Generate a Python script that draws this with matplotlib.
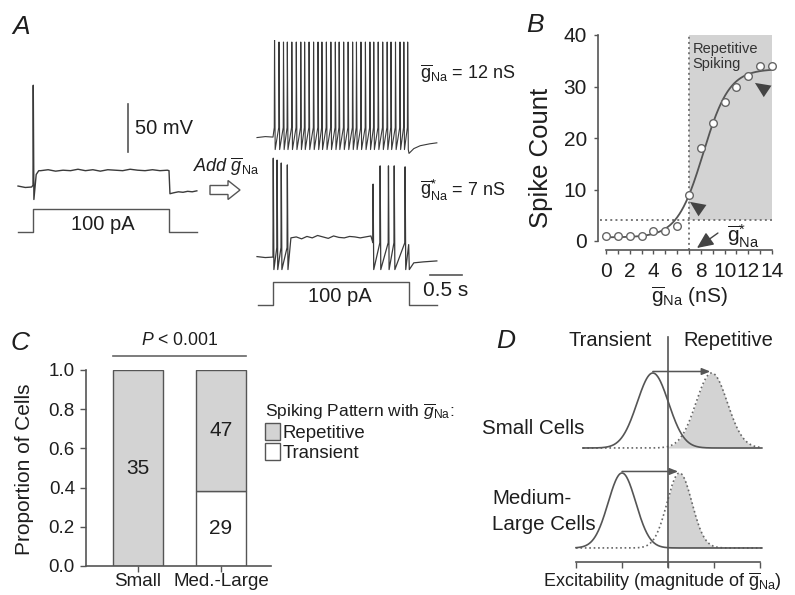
import numpy as np
import matplotlib
matplotlib.use('Agg')
import matplotlib.pyplot as plt
import matplotlib.transforms as mtransforms
from matplotlib.patches import Rectangle, FancyArrow, Patch

W, H = 795, 595
plt.rcParams['font.family'] = ['Liberation Sans', 'DejaVu Sans']
plt.rcParams['mathtext.fontset'] = 'custom'
plt.rcParams['mathtext.rm'] = 'Liberation Sans'
plt.rcParams['mathtext.it'] = 'Liberation Sans:italic'
plt.rcParams['mathtext.bf'] = 'Liberation Sans:bold'
TXT = '#1e1e1e'
LINE = '#555555'
TRACE = '#3a3a3a'
GRAY = '#d3d3d3'

# ---- panel A: spike times (s, from step onset) and peaks (mV)
step_dur = 2.125
spikes_12 = [0.02, 0.09, 0.16, 0.22, 0.29, 0.36, 0.43, 0.49, 0.56, 0.63, 0.70,
             0.76, 0.83, 0.90, 0.97, 1.03, 1.10, 1.17, 1.24, 1.30, 1.37, 1.44,
             1.51, 1.57, 1.64, 1.71, 1.78, 1.84, 1.91, 1.98, 2.04, 2.10]
peaks_12 = [38] + [34] * 31
spikes_7 = [0.0, 0.06, 0.125, 0.22, 1.56, 1.67, 1.80, 1.89, 2.06]
peaks_7 = [38, 36, 33, 31, 11, 30, 30, 30, 29]
plateau_0 = [-48, -47, -48.5, -47.5, -48, -46.5, -48, -47, -48.5, -47,
             -47.5, -48, -46.5, -47.5, -48, -47, -48, -47.5]
plateau_7 = [-45, -44, -46, -43.5, -45, -42.5, -44, -45.5, -43, -44.5,
             -45, -43.5, -44, -45, -44, -43]
after_v = [-71, -70, -70.5, -69.5, -70, -69]

# ---- panel B
g_na = [0, 1, 2, 3, 4, 5, 6, 7, 8, 9, 10, 11, 12, 13, 14]
spike_count = [1, 1, 1, 1, 2, 2, 3, 9, 18, 23, 27, 30, 32, 34, 34]
fit_bottom, fit_top, fit_half, fit_slope = 0.7, 33.4, 8.2, 1.1
g_star = 7
count_threshold = 4

# ---- panel C
cell_groups = ['Small', 'Med.-Large']
n_repetitive = [35, 47]
n_transient = [0, 29]

# ---- panel D: (mean, sd) before / after adding gNa
small_before, small_after = (1.67, 0.34), (2.95, 0.34)
large_before, large_after = (1.0, 0.30), (2.25, 0.27)

fig = plt.figure(figsize=(W / 100, H / 100), dpi=100)
px = mtransforms.Affine2D().scale(1 / W, -1 / H).translate(0, 1) + fig.transFigure


def add_px_axes(x0, y0, x1, y1):
    return fig.add_axes([x0 / W, 1 - y1 / H, (x1 - x0) / W, (y1 - y0) / H])


def ptext(x, y, s, size, **kw):
    kw.setdefault('ha', 'center')
    kw.setdefault('va', 'center')
    return fig.text(x, y, s, transform=px, fontsize=size, color=TXT, **kw)


# panel letters
for letter, (lx, ly) in zip('ABCD', [(12, 27), (526, 25), (11, 343), (496, 341)]):
    ptext(lx, ly, letter, 19, ha='left', style='italic')

# ================= A =================
axA = add_px_axes(0, 40, 470, 320)
axA.set_xlim((0 - 33) / 64, (470 - 33) / 64)
axA.set_ylim(-65 - (320 - 187) / 0.96, -65 + (187 - 40) / 0.96)
axA.axis('off')
right_shift = (273 - 33) / 64

# transient trace (no added gNa)
t0 = [-0.234, -0.12, -0.02, 0.0, 0.004, 0.014, 0.05, 0.09]
v0 = [-64, -65.5, -65, -63, 41, -78, -52, -48]
t0 += list(np.linspace(0.12, 2.10, len(plateau_0)))
v0 += plateau_0
t0 += [2.125, 2.14] + list(np.linspace(2.2, 2.56, len(after_v)))
v0 += [-48, -72] + after_v
axA.plot(t0, v0, color=TRACE, lw=1.0)

# 12 nS trace
t12 = [-0.25, -0.12, 0.0]
v12 = [-65.5, -64.5, -65]
for ts, pk in zip(spikes_12, peaks_12):
    t12 += [ts, ts + 0.004, ts + 0.014]
    v12 += [-55, pk, -78]
t12 += [2.125, 2.2, 2.3, 2.45, 2.56]
v12 += [-82, -77, -74, -72, -71]
axA.plot(np.array(t12) + right_shift, np.array(v12) + 52, color=TRACE, lw=0.8)

# 7 nS trace
t7 = [-0.25, -0.12, 0.0]
v7 = [-64.5, -65.5, -65]
for ts, pk in zip(spikes_7[:4], peaks_7[:4]):
    t7 += [ts, ts + 0.004, ts + 0.014]
    v7 += [-55, pk, -78]
t7 += list(np.linspace(0.28, 1.53, len(plateau_7)))
v7 += plateau_7
for ts, pk in zip(spikes_7[4:], peaks_7[4:]):
    t7 += [ts, ts + 0.004, ts + 0.014]
    v7 += [-50, pk, -78]
t7 += [2.12, 2.13, 2.2, 2.35, 2.56]
v7 += [-52, -78, -71, -70, -69]
axA.plot(np.array(t7) + right_shift, np.array(v7) - 73, color=TRACE, lw=0.9)

# current steps (100 pA)
i_scale = 0.24
ts_step = [-0.234, 0, 0, step_dur, step_dur, 2.56]
i_step = np.array([0, 0, 100, 100, 0, 0])
axA.plot(ts_step, -112 + i_step * i_scale, color=LINE, lw=1.0)
axA.plot(np.array(ts_step) + right_shift, -188 + i_step * i_scale, color=LINE, lw=1.0)

# scale bars
axA.plot([1.484, 1.484], [-28.5, 21.5], color=LINE, lw=1.2)
axA.plot([6.203, 6.703], [-156.7, -156.7], color=LINE, lw=1.2)
ptext(135, 128, '50 mV', 14.5, ha='left')
ptext(446, 290, '0.5 s', 15)
ptext(103, 224, '100 pA', 14.5)
ptext(340, 297, '100 pA', 14.5)
ptext(420, 73, r'$\overline{\mathrm{g}}_{\mathrm{Na}}$ = 12 nS', 13, ha='left')
ptext(420, 190, r'$\overline{\mathrm{g}}^{*}_{\mathrm{Na}}$ = 7 nS', 13, ha='left')
ptext(193, 166, r'$\mathit{Add}\ \overline{g}_{\mathrm{Na}}$', 13, ha='left')
fig.patches.append(FancyArrow(210, 190, 18, 0, width=9, head_width=19,
                              head_length=12, length_includes_head=False,
                              facecolor='white', edgecolor=LINE, lw=1,
                              transform=px))

# ================= B =================
axB = add_px_axes(606, 35, 772, 241)
axB.set_xlim(0, 14)
axB.set_ylim(0, 40)
for s in ['top', 'right']:
    axB.spines[s].set_visible(False)
axB.spines['left'].set_position(('outward', 5.8))
axB.spines['bottom'].set_position(('outward', 6.5))
for s in ['left', 'bottom']:
    axB.spines[s].set_color(LINE)
    axB.spines[s].set_linewidth(1.2)
axB.add_patch(Rectangle((g_star, count_threshold), 14 - g_star, 40 - count_threshold,
                        color=GRAY, lw=0, zorder=0))
axB.plot([g_star, g_star], [-1.75, 40], ls=':', color='#777', lw=1.4, clip_on=False)
axB.plot([-0.5, 14], [count_threshold, count_threshold], ls=':', color='#777', lw=1.4,
         clip_on=False)
gx = np.linspace(0, 14, 300)
fit = fit_bottom + (fit_top - fit_bottom) / (1 + np.exp((fit_half - gx) / fit_slope))
axB.plot(gx, fit, color='#555', lw=1.3)
axB.plot(g_na, spike_count, 'o', ms=5.5, mfc='white', mec='#666', mew=1.0, clip_on=False,
         zorder=5)
axB.set_xticks(range(0, 15))
axB.set_xticklabels([str(v) if v % 2 == 0 else '' for v in range(0, 15)])
axB.set_yticks([0, 10, 20, 30, 40])
axB.tick_params(axis='x', length=3, width=1, color=LINE, labelsize=15, pad=5.5,
                labelcolor=TXT)
axB.tick_params(axis='y', length=3, width=1, color=LINE, labelsize=15, pad=5,
                labelcolor=TXT)
axB.text(7.3, 38.6, 'Repetitive\nSpiking', fontsize=10.5, color='#333', va='top',
         linespacing=1.05)
head = dict(arrowstyle='-|>,head_length=1.1,head_width=0.5', color='#444', lw=0,
            shrinkA=0, shrinkB=0, mutation_scale=10)
axB.annotate('', xy=(12.56, 30.7), xytext=(13.6, 29.1), arrowprops=head)
axB.annotate('', xy=(7.08, 7.6), xytext=(8.2, 5.8), arrowprops=head)
axB.annotate('', xy=(7.67, -1.36), xytext=(9.44, 1.55), annotation_clip=False,
             arrowprops=dict(arrowstyle='-|>,head_length=1.0,head_width=0.45',
                             color='#444', lw=1, shrinkA=0, shrinkB=0, mutation_scale=10))
ptext(727, 236, r'$\overline{\mathrm{g}}^{*}_{\mathrm{Na}}$', 15, ha='left')
ptext(541, 158, 'Spike Count', 18.5, rotation=90)
ptext(689, 297, r'$\overline{\mathrm{g}}_{\mathrm{Na}}$ (nS)', 15)

# ================= C =================
axC = add_px_axes(86, 370, 271, 566)
axC.set_xlim(-0.627, 1.602)
axC.set_ylim(0, 1)
totals = [r + t for r, t in zip(n_repetitive, n_transient)]
p_trans = [t / n for t, n in zip(n_transient, totals)]
p_rep = [r / n for r, n in zip(n_repetitive, totals)]
xc = np.arange(len(cell_groups))
axC.bar(xc, p_trans, width=0.6, color='white', edgecolor=LINE, lw=1)
axC.bar(xc, p_rep, bottom=p_trans, width=0.6, color=GRAY, edgecolor=LINE, lw=1)
for i in xc:
    axC.text(i, p_trans[i] + p_rep[i] / 2, str(n_repetitive[i]), ha='center',
             va='center', fontsize=15, color=TXT)
    if n_transient[i]:
        axC.text(i, p_trans[i] / 2, str(n_transient[i]), ha='center', va='center',
                 fontsize=15, color=TXT)
for s in ['top', 'right']:
    axC.spines[s].set_visible(False)
for s in ['left', 'bottom']:
    axC.spines[s].set_color(LINE)
    axC.spines[s].set_linewidth(1.2)
axC.set_xticks(xc)
axC.set_xticklabels(cell_groups)
axC.set_yticks([0, 0.2, 0.4, 0.6, 0.8, 1.0])
axC.set_yticklabels(['0.0', '0.2', '0.4', '0.6', '0.8', '1.0'])
axC.tick_params(axis='x', length=4, width=1, color=LINE, labelsize=13.5, pad=1,
                labelcolor=TXT)
axC.tick_params(axis='y', length=4, width=1, color=LINE, labelsize=13.5, pad=4,
                labelcolor=TXT)
axC.plot([-0.3, 1.3], [1.071, 1.071], color='#666', lw=1.2, clip_on=False)
axC.text(0.5, 1.153, r'$P$ < 0.001', ha='center', va='center', fontsize=12.7,
         color=TXT)
ptext(25, 469, 'Proportion of Cells', 15, rotation=90)
handles = [Patch(facecolor=GRAY, edgecolor=LINE, lw=1),
           Patch(facecolor='white', edgecolor=LINE, lw=1)]
leg = fig.legend(handles, ['Repetitive', 'Transient'],
                 title=r'Spiking Pattern with $\overline{g}_{\mathrm{Na}}$:',
                 loc='upper left', bbox_to_anchor=(265 / W, 1 - 402 / H),
                 frameon=False, borderpad=0, handlelength=0.78, handleheight=1.0,
                 handletextpad=0.15, labelspacing=0.05, fontsize=13.4,
                 title_fontsize=12.5, alignment='left', borderaxespad=0)
for t in leg.get_texts():
    t.set_color(TXT)
leg.get_title().set_color(TXT)

# ================= D =================
axD = add_px_axes(576, 337, 760, 562)
axD.set_xlim(0, 4)
axD.set_ylim(-0.187, 2.813)
for s in ['top', 'right', 'left']:
    axD.spines[s].set_visible(False)
axD.spines['bottom'].set_color(LINE)
axD.spines['bottom'].set_linewidth(1.2)
axD.set_xticks([0, 1, 2, 3, 4])
axD.set_xticklabels([])
axD.set_yticks([])
axD.tick_params(axis='x', length=4, width=1, color=LINE)
row_offset = 1.333
rows = [(row_offset, small_before, small_after, 0.15),
        (0.0, large_before, large_after, 0.0)]
for off, before, after, x_start in rows:
    x = np.linspace(x_start, 4.04, 400)
    yb = off + np.exp(-0.5 * ((x - before[0]) / before[1]) ** 2)
    ya = off + np.exp(-0.5 * ((x - after[0]) / after[1]) ** 2)
    axD.fill_between(x, off, ya, where=x >= 2, color=GRAY, lw=0, zorder=1)
    axD.plot(x, ya, ls=':', color='#666', lw=1.2, clip_on=False, zorder=2)
    axD.plot(x, yb, color='#555', lw=1.2, clip_on=False, zorder=3)
    axD.annotate('', xy=(after[0] - 0.03, off + 1.02), xytext=(before[0], off + 1.02),
                 arrowprops=dict(arrowstyle='-|>,head_length=0.5,head_width=0.2',
                                 color='#555', lw=1.1, shrinkA=0, shrinkB=0))
axD.plot([2, 2], [-0.253, 2.813], color='#555', lw=1.2, clip_on=False, zorder=4)
ptext(610, 341, 'Transient', 14.5)
ptext(728, 341, 'Repetitive', 14.5)
ptext(482, 428, 'Small Cells', 14.8, ha='left')
ptext(492, 499, 'Medium-', 14.8, ha='left')
ptext(492, 525, 'Large Cells', 14.8, ha='left')
ptext(662, 582, r'Excitability (magnitude of $\overline{\mathrm{g}}_{\mathrm{Na}}$)', 13)

fig.savefig('out.png', dpi=100)
